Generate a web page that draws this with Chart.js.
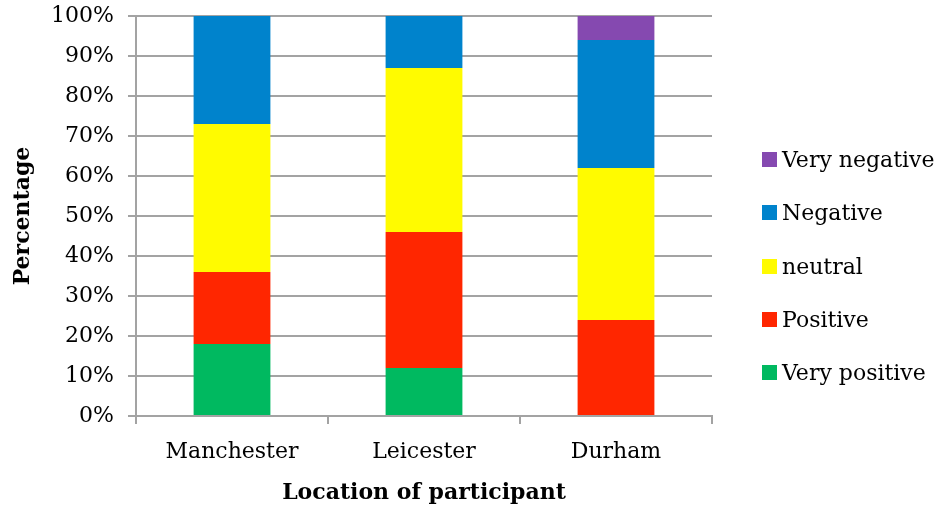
<!DOCTYPE html>
<html>
<head>
<meta charset="utf-8">
<script src="https://cdn.jsdelivr.net/npm/chart.js@4"></script>
<style>
  html, body { margin: 0; padding: 0; background: #ffffff; }
  #wrap { position: relative; width: 938px; height: 508px; }
  #legend { position: absolute; left: 762px; top: 0; font-family: 'DejaVu Serif', serif; font-size: 22px; color: #000; }
  .item { position: absolute; left: 0; white-space: nowrap; height: 26px; line-height: 26px; }
  .box { position: absolute; left: 0; top: 5px; width: 15px; height: 15px; }
  .txt { position: absolute; left: 20px; top: 0; }
</style>
</head>
<body>
<div id="wrap">
  <canvas id="c" width="938" height="508"></canvas>
  <div id="legend"></div>
</div>
<script>
// Share of participant responses by location (percent)
const locations = ["Manchester", "Leicester", "Durham"];
const veryPositive = [18, 12, 0];
const positive     = [18, 34, 24];
const neutral      = [37, 41, 38];
const negative     = [27, 13, 32];
const veryNegative = [0, 0, 6];
const yTicks = [0, 10, 20, 30, 40, 50, 60, 70, 80, 90, 100];

const FONT = "'DejaVu Serif', serif";
const GRID = "#a3a3a3";

const series = [
  { label: "Very positive", data: veryPositive, color: "#00b960" },
  { label: "Positive",      data: positive,     color: "#ff2600" },
  { label: "neutral",       data: neutral,      color: "#fffb00" },
  { label: "Negative",      data: negative,     color: "#0083cc" },
  { label: "Very negative", data: veryNegative, color: "#8549b0" }
];

// Legend on the right, top entry = top of the stack
const legendEl = document.getElementById("legend");
series.slice().reverse().forEach((s, i) => {
  const item = document.createElement("div");
  item.className = "item";
  item.style.top = (147 + i * 53.3) + "px";
  const box = document.createElement("span");
  box.className = "box";
  box.style.background = s.color;
  const txt = document.createElement("span");
  txt.className = "txt";
  txt.textContent = s.label;
  item.appendChild(box);
  item.appendChild(txt);
  legendEl.appendChild(item);
});

new Chart(document.getElementById("c"), {
  type: "bar",
  data: {
    labels: locations,
    datasets: series.map(s => ({
      label: s.label,
      data: s.data,
      backgroundColor: s.color,
      borderWidth: 0,
      categoryPercentage: 1.0,
      barPercentage: 0.4
    }))
  },
  options: {
    responsive: false,
    animation: false,
    layout: { padding: { top: 16, right: 226, left: 10, bottom: 2 } },
    plugins: {
      tooltip: { enabled: false },
      legend: { display: false }
    },
    scales: {
      x: {
        stacked: true,
        afterFit: axis => {
          axis.height = 90;
          axis.paddingLeft = 0;
          axis.paddingRight = 0;
        },
        grid: {
          drawOnChartArea: false,
          drawTicks: true,
          tickLength: 8,
          color: GRID,
          lineWidth: 2,
          offset: true
        },
        border: { color: GRID, width: 2 },
        ticks: {
          font: { family: FONT, size: 22 },
          color: "#000",
          padding: 15,
          minRotation: 0,
          maxRotation: 0,
          autoSkip: false
        },
        title: {
          display: true,
          text: "Location of participant",
          font: { family: FONT, size: 22, weight: "bold" },
          color: "#000",
          padding: { top: 14, bottom: 0 }
        }
      },
      y: {
        stacked: true,
        min: 0,
        max: 100,
        afterBuildTicks: axis => { axis.ticks = yTicks.map(v => ({ value: v })); },
        afterFit: axis => {
          axis.width = 126;
          axis.paddingTop = 0;
          axis.paddingBottom = 0;
        },
        grid: { color: GRID, lineWidth: 2, tickLength: 8 },
        border: { color: GRID, width: 2 },
        ticks: {
          font: { family: FONT, size: 22 },
          color: "#000",
          padding: 14,
          autoSkip: false,
          callback: v => v + "%"
        },
        title: {
          display: true,
          text: "Percentage",
          font: { family: FONT, size: 22, weight: "bold" },
          color: "#000",
          padding: { top: 0, bottom: 7 }
        }
      }
    }
  }
});
</script>
</body>
</html>
